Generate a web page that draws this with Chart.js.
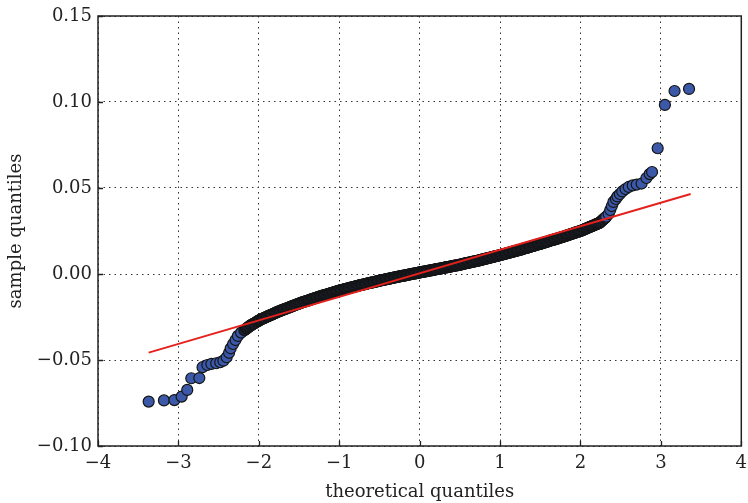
<!DOCTYPE html>
<html>
<head>
<meta charset="utf-8">
<script src="https://cdn.jsdelivr.net/npm/chart.js@4"></script>
<style>
  html, body { margin: 0; padding: 0; background: #fff; }
  canvas { display: block; }
</style>
</head>
<body>
<canvas id="qq" width="748" height="503"></canvas>
<script>
// normal Q-Q plot of the sample: theoretical vs sample quantiles
const lowerTailX = [-3.37, -3.18, -3.05, -2.96, -2.89, -2.84, -2.74, -2.70, -2.64, -2.59,
                    -2.53, -2.48, -2.44, -2.40, -2.37, -2.35, -2.32, -2.29, -2.26, -2.22];
const lowerTailY = [-0.0742, -0.0735, -0.0733, -0.0713, -0.0674, -0.0606, -0.0605, -0.0542, -0.0529, -0.0523,
                    -0.0519, -0.0513, -0.0504, -0.0484, -0.0458, -0.0432, -0.0407, -0.0384, -0.0360, -0.0341];

// the dense middle of the sample
const bandX = [
  -2.18, -2.17, -2.16, -2.15, -2.14, -2.13, -2.12, -2.11, -2.10, -2.09,
  -2.08, -2.07, -2.06, -2.05, -2.04, -2.03, -2.02, -2.01, -2.00, -1.99,
  -1.98, -1.97, -1.96, -1.95, -1.94, -1.93, -1.92, -1.91, -1.90, -1.89,
  -1.88, -1.87, -1.86, -1.85, -1.84, -1.83, -1.82, -1.81, -1.80, -1.79,
  -1.78, -1.77, -1.76, -1.75, -1.74, -1.73, -1.72, -1.71, -1.70, -1.69,
  -1.68, -1.67, -1.66, -1.65, -1.64, -1.63, -1.62, -1.61, -1.60, -1.59,
  -1.58, -1.57, -1.56, -1.55, -1.54, -1.53, -1.52, -1.51, -1.50, -1.49,
  -1.48, -1.47, -1.46, -1.45, -1.44, -1.43, -1.42, -1.41, -1.40, -1.39,
  -1.38, -1.37, -1.36, -1.35, -1.34, -1.33, -1.32, -1.31, -1.30, -1.29,
  -1.28, -1.27, -1.26, -1.25, -1.24, -1.23, -1.22, -1.21, -1.20, -1.19,
  -1.18, -1.17, -1.16, -1.15, -1.14, -1.13, -1.12, -1.11, -1.10, -1.09,
  -1.08, -1.07, -1.06, -1.05, -1.04, -1.03, -1.02, -1.01, -1.00, -0.99,
  -0.98, -0.97, -0.96, -0.95, -0.94, -0.93, -0.92, -0.91, -0.90, -0.89,
  -0.88, -0.87, -0.86, -0.85, -0.84, -0.83, -0.82, -0.81, -0.80, -0.79,
  -0.78, -0.77, -0.76, -0.75, -0.74, -0.73, -0.72, -0.71, -0.70, -0.69,
  -0.68, -0.67, -0.66, -0.65, -0.64, -0.63, -0.62, -0.61, -0.60, -0.59,
  -0.58, -0.57, -0.56, -0.55, -0.54, -0.53, -0.52, -0.51, -0.50, -0.49,
  -0.48, -0.47, -0.46, -0.45, -0.44, -0.43, -0.42, -0.41, -0.40, -0.39,
  -0.38, -0.37, -0.36, -0.35, -0.34, -0.33, -0.32, -0.31, -0.30, -0.29,
  -0.28, -0.27, -0.26, -0.25, -0.24, -0.23, -0.22, -0.21, -0.20, -0.19,
  -0.18, -0.17, -0.16, -0.15, -0.14, -0.13, -0.12, -0.11, -0.10, -0.09,
  -0.08, -0.07, -0.06, -0.05, -0.04, -0.03, -0.02, -0.01, 0.00, 0.01,
  0.02, 0.03, 0.04, 0.05, 0.06, 0.07, 0.08, 0.09, 0.10, 0.11,
  0.12, 0.13, 0.14, 0.15, 0.16, 0.17, 0.18, 0.19, 0.20, 0.21,
  0.22, 0.23, 0.24, 0.25, 0.26, 0.27, 0.28, 0.29, 0.30, 0.31,
  0.32, 0.33, 0.34, 0.35, 0.36, 0.37, 0.38, 0.39, 0.40, 0.41,
  0.42, 0.43, 0.44, 0.45, 0.46, 0.47, 0.48, 0.49, 0.50, 0.51,
  0.52, 0.53, 0.54, 0.55, 0.56, 0.57, 0.58, 0.59, 0.60, 0.61,
  0.62, 0.63, 0.64, 0.65, 0.66, 0.67, 0.68, 0.69, 0.70, 0.71,
  0.72, 0.73, 0.74, 0.75, 0.76, 0.77, 0.78, 0.79, 0.80, 0.81,
  0.82, 0.83, 0.84, 0.85, 0.86, 0.87, 0.88, 0.89, 0.90, 0.91,
  0.92, 0.93, 0.94, 0.95, 0.96, 0.97, 0.98, 0.99, 1.00, 1.01,
  1.02, 1.03, 1.04, 1.05, 1.06, 1.07, 1.08, 1.09, 1.10, 1.11,
  1.12, 1.13, 1.14, 1.15, 1.16, 1.17, 1.18, 1.19, 1.20, 1.21,
  1.22, 1.23, 1.24, 1.25, 1.26, 1.27, 1.28, 1.29, 1.30, 1.31,
  1.32, 1.33, 1.34, 1.35, 1.36, 1.37, 1.38, 1.39, 1.40, 1.41,
  1.42, 1.43, 1.44, 1.45, 1.46, 1.47, 1.48, 1.49, 1.50, 1.51,
  1.52, 1.53, 1.54, 1.55, 1.56, 1.57, 1.58, 1.59, 1.60, 1.61,
  1.62, 1.63, 1.64, 1.65, 1.66, 1.67, 1.68, 1.69, 1.70, 1.71,
  1.72, 1.73, 1.74, 1.75, 1.76, 1.77, 1.78, 1.79, 1.80, 1.81,
  1.82, 1.83, 1.84, 1.85, 1.86, 1.87, 1.88, 1.89, 1.90, 1.91,
  1.92, 1.93, 1.94, 1.95, 1.96, 1.97, 1.98, 1.99, 2.00, 2.01,
  2.02, 2.03, 2.04, 2.05, 2.06, 2.07, 2.08, 2.09, 2.10, 2.11,
  2.12, 2.13, 2.14, 2.15, 2.16, 2.17, 2.18, 2.19, 2.20, 2.21,
  2.22, 2.23, 2.24, 2.25, 2.26, 2.27, 2.28, 2.29, 2.30, 2.31,
  2.32
];
const bandY = [
  -0.0327, -0.0324, -0.0320, -0.0316, -0.0312, -0.0309, -0.0305, -0.0302, -0.0299, -0.0296,
  -0.0293, -0.0290, -0.0288, -0.0285, -0.0282, -0.0279, -0.0276, -0.0274, -0.0271, -0.0268,
  -0.0265, -0.0263, -0.0261, -0.0259, -0.0257, -0.0255, -0.0253, -0.0250, -0.0248, -0.0246,
  -0.0244, -0.0242, -0.0240, -0.0238, -0.0236, -0.0234, -0.0232, -0.0230, -0.0228, -0.0225,
  -0.0223, -0.0221, -0.0219, -0.0217, -0.0215, -0.0213, -0.0212, -0.0210, -0.0208, -0.0206,
  -0.0204, -0.0202, -0.0201, -0.0199, -0.0197, -0.0195, -0.0194, -0.0192, -0.0190, -0.0188,
  -0.0186, -0.0184, -0.0183, -0.0181, -0.0179, -0.0177, -0.0176, -0.0174, -0.0172, -0.0170,
  -0.0168, -0.0166, -0.0165, -0.0163, -0.0162, -0.0160, -0.0159, -0.0157, -0.0156, -0.0154,
  -0.0153, -0.0151, -0.0150, -0.0148, -0.0146, -0.0144, -0.0143, -0.0141, -0.0140, -0.0138,
  -0.0137, -0.0135, -0.0134, -0.0132, -0.0131, -0.0129, -0.0128, -0.0126, -0.0125, -0.0123,
  -0.0122, -0.0121, -0.0120, -0.0118, -0.0117, -0.0115, -0.0114, -0.0112, -0.0111, -0.0109,
  -0.0108, -0.0106, -0.0105, -0.0104, -0.0103, -0.0101, -0.0100, -0.0098, -0.0097, -0.0095,
  -0.0094, -0.0093, -0.0092, -0.0090, -0.0089, -0.0088, -0.0087, -0.0086, -0.0085, -0.0083,
  -0.0082, -0.0081, -0.0080, -0.0078, -0.0077, -0.0076, -0.0075, -0.0074, -0.0073, -0.0071,
  -0.0070, -0.0069, -0.0068, -0.0066, -0.0065, -0.0064, -0.0063, -0.0062, -0.0061, -0.0060,
  -0.0059, -0.0058, -0.0057, -0.0055, -0.0054, -0.0053, -0.0052, -0.0051, -0.0050, -0.0049,
  -0.0048, -0.0047, -0.0046, -0.0045, -0.0044, -0.0042, -0.0041, -0.0040, -0.0039, -0.0038,
  -0.0037, -0.0036, -0.0035, -0.0034, -0.0033, -0.0032, -0.0031, -0.0030, -0.0029, -0.0028,
  -0.0027, -0.0026, -0.0025, -0.0024, -0.0023, -0.0022, -0.0021, -0.0020, -0.0019, -0.0018,
  -0.0017, -0.0016, -0.0015, -0.0014, -0.0013, -0.0012, -0.0011, -0.0011, -0.0010, -0.0009,
  -0.0008, -0.0007, -0.0006, -0.0005, -0.0004, -0.0003, -0.0002, -0.0001, 0.0000, 0.0001,
  0.0002, 0.0003, 0.0003, 0.0004, 0.0005, 0.0006, 0.0007, 0.0008, 0.0009, 0.0010,
  0.0011, 0.0012, 0.0013, 0.0014, 0.0014, 0.0015, 0.0016, 0.0017, 0.0018, 0.0019,
  0.0020, 0.0021, 0.0021, 0.0022, 0.0023, 0.0024, 0.0025, 0.0026, 0.0027, 0.0028,
  0.0029, 0.0030, 0.0030, 0.0031, 0.0032, 0.0033, 0.0034, 0.0035, 0.0036, 0.0037,
  0.0038, 0.0039, 0.0039, 0.0040, 0.0041, 0.0042, 0.0043, 0.0044, 0.0045, 0.0046,
  0.0047, 0.0048, 0.0049, 0.0050, 0.0050, 0.0051, 0.0052, 0.0053, 0.0054, 0.0055,
  0.0056, 0.0057, 0.0058, 0.0060, 0.0061, 0.0062, 0.0063, 0.0064, 0.0065, 0.0066,
  0.0067, 0.0068, 0.0069, 0.0070, 0.0071, 0.0072, 0.0073, 0.0074, 0.0075, 0.0076,
  0.0077, 0.0078, 0.0079, 0.0081, 0.0082, 0.0083, 0.0084, 0.0085, 0.0086, 0.0088,
  0.0089, 0.0090, 0.0091, 0.0092, 0.0093, 0.0095, 0.0096, 0.0097, 0.0098, 0.0099,
  0.0100, 0.0102, 0.0103, 0.0104, 0.0105, 0.0106, 0.0107, 0.0109, 0.0110, 0.0111,
  0.0112, 0.0114, 0.0115, 0.0116, 0.0117, 0.0119, 0.0120, 0.0121, 0.0122, 0.0124,
  0.0125, 0.0126, 0.0127, 0.0129, 0.0130, 0.0131, 0.0132, 0.0134, 0.0135, 0.0136,
  0.0137, 0.0139, 0.0140, 0.0141, 0.0142, 0.0144, 0.0145, 0.0147, 0.0148, 0.0150,
  0.0151, 0.0152, 0.0153, 0.0155, 0.0156, 0.0158, 0.0159, 0.0161, 0.0162, 0.0163,
  0.0164, 0.0166, 0.0167, 0.0169, 0.0170, 0.0172, 0.0173, 0.0174, 0.0175, 0.0177,
  0.0178, 0.0180, 0.0181, 0.0183, 0.0184, 0.0186, 0.0187, 0.0189, 0.0190, 0.0192,
  0.0193, 0.0195, 0.0196, 0.0198, 0.0199, 0.0200, 0.0201, 0.0203, 0.0204, 0.0206,
  0.0207, 0.0209, 0.0210, 0.0212, 0.0213, 0.0215, 0.0216, 0.0218, 0.0219, 0.0221,
  0.0222, 0.0224, 0.0225, 0.0227, 0.0228, 0.0230, 0.0232, 0.0234, 0.0235, 0.0237,
  0.0238, 0.0240, 0.0241, 0.0243, 0.0244, 0.0246, 0.0247, 0.0249, 0.0250, 0.0252,
  0.0254, 0.0256, 0.0258, 0.0260, 0.0262, 0.0264, 0.0266, 0.0268, 0.0270, 0.0272,
  0.0274, 0.0276, 0.0278, 0.0280, 0.0282, 0.0284, 0.0286, 0.0288, 0.0290, 0.0292,
  0.0294, 0.0296, 0.0299, 0.0303, 0.0307, 0.0311, 0.0316, 0.0320, 0.0324, 0.0328,
  0.0333
];

const upperTailX = [2.35, 2.37, 2.39, 2.41, 2.44, 2.46, 2.49, 2.52, 2.56, 2.60,
                    2.65, 2.70, 2.76, 2.82, 2.86, 2.89, 2.96, 3.05, 3.17, 3.35];
const upperTailY = [0.0349, 0.0372, 0.0395, 0.0419, 0.0436, 0.0451, 0.0465, 0.0480, 0.0494, 0.0506,
                    0.0515, 0.0520, 0.0526, 0.0558, 0.0581, 0.0593, 0.0731, 0.0983, 0.1064, 0.1076];

// reference line through the quartiles
const fitX = [-3.37, 3.37];
const fitY = [-0.0457, 0.0465];

const xTicks = [-4, -3, -2, -1, 0, 1, 2, 3, 4];
const yTicks = [-0.10, -0.05, 0.00, 0.05, 0.10, 0.15];

const theoretical = lowerTailX.concat(bandX, upperTailX);
const sample = lowerTailY.concat(bandY, upperTailY);
const points = theoretical.map((x, i) => ({ x, y: sample[i] }));
const fitLine = fitX.map((x, i) => ({ x, y: fitY[i] }));

const FONT = "'DejaVu Serif', serif";
const minus = s => s.replace('-', '\u2212');

// frame plus inward ticks, matplotlib style
const frameTicks = {
  id: 'frameTicks',
  afterDatasetsDraw(chart) {
    const { ctx, chartArea: a, scales } = chart;
    ctx.save();
    ctx.strokeStyle = '#222';
    ctx.lineWidth = 1.3;
    ctx.beginPath();
    scales.x.ticks.forEach(t => {
      const px = Math.round(scales.x.getPixelForValue(t.value)) + 0.5;
      ctx.moveTo(px, a.bottom); ctx.lineTo(px, a.bottom - 5);
    });
    scales.y.ticks.forEach(t => {
      const py = Math.round(scales.y.getPixelForValue(t.value)) + 0.5;
      ctx.moveTo(a.left, py); ctx.lineTo(a.left + 5, py);
    });
    ctx.stroke();
    ctx.lineWidth = 1.5;
    ctx.strokeRect(a.left, a.top, a.right - a.left, a.bottom - a.top);
    ctx.restore();
  }
};

new Chart(document.getElementById('qq'), {
  type: 'scatter',
  data: {
    datasets: [
      {
        type: 'line',
        data: fitLine,
        borderColor: '#e4211c',
        borderWidth: 1.9,
        pointRadius: 0,
        fill: false,
        order: 0
      },
      {
        data: points,
        backgroundColor: '#3b59a8',
        borderColor: '#141414',
        borderWidth: 1.2,
        pointRadius: 5.5,
        order: 1
      }
    ]
  },
  options: {
    responsive: false,
    animation: false,
    events: [],
    layout: { padding: { left: 0, right: 6, top: 16, bottom: 0 } },
    plugins: { legend: { display: false }, tooltip: { enabled: false } },
    scales: {
      x: {
        type: 'linear',
        min: -4, max: 4,
        afterBuildTicks: s => { s.ticks = xTicks.map(v => ({ value: v })); },
        afterFit: s => { s.height = 57; s.paddingLeft = 0; s.paddingRight = 0; },
        grid: { color: '#333', lineWidth: 1, drawTicks: false },
        border: { display: false, dash: [1.5, 4] },
        ticks: {
          padding: 7,
          color: '#222',
          font: { family: FONT, size: 18 },
          callback: v => minus(String(v))
        },
        title: {
          display: true,
          text: 'theoretical quantiles',
          color: '#222',
          font: { family: FONT, size: 18 },
          padding: { top: 0, bottom: 0 }
        }
      },
      y: {
        type: 'linear',
        min: -0.10, max: 0.15,
        afterBuildTicks: s => { s.ticks = yTicks.map(v => ({ value: v })); },
        afterFit: s => { s.width = 98; s.paddingTop = 0; s.paddingBottom = 0; },
        grid: { color: '#333', lineWidth: 1, drawTicks: false },
        border: { display: false, dash: [1.5, 4] },
        ticks: {
          padding: 6,
          color: '#222',
          font: { family: FONT, size: 18 },
          callback: v => Math.abs(v) < 1e-9 ? '0.00' : minus(v.toFixed(2))
        },
        title: {
          display: true,
          text: 'sample quantiles',
          color: '#222',
          font: { family: FONT, size: 18 },
          padding: { top: 6, bottom: 0 }
        }
      }
    }
  },
  plugins: [frameTicks]
});
</script>
</body>
</html>
